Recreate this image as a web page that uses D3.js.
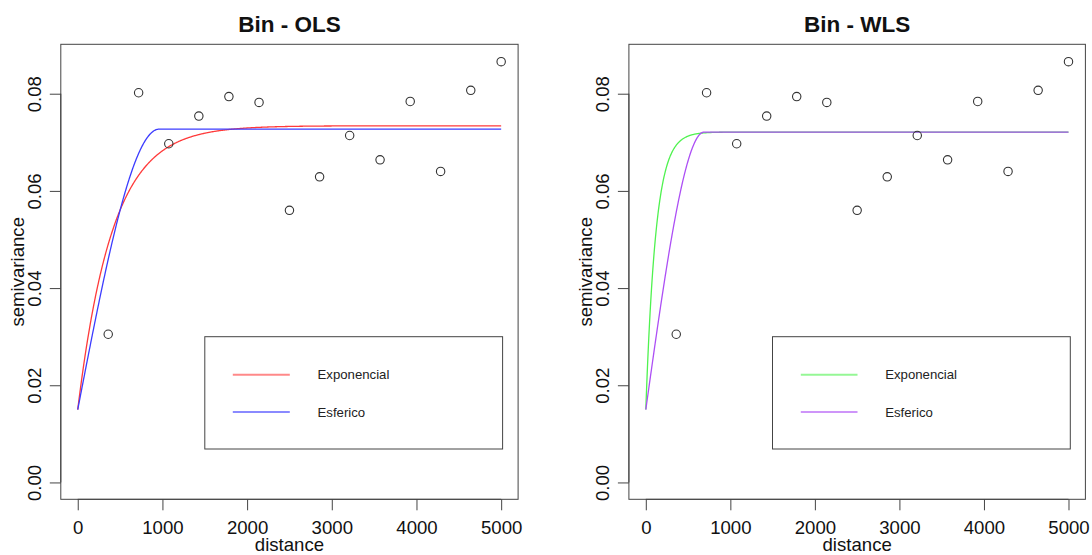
<!DOCTYPE html>
<html><head><meta charset="utf-8">
<script src="https://d3js.org/d3.v7.min.js"></script>
<style>
html,body{margin:0;padding:0;background:#fff;}
svg{display:block;font-family:"Liberation Sans",Arial,Helvetica,sans-serif;}
</style></head>
<body><svg id="c" width="1092" height="555"></svg>
<script>
// ---- data ----
const distances   = [360, 719, 1075, 1430, 1785, 2141, 2500, 2856, 3211, 3570, 3926, 4285, 4641, 5000];
const semivariance= [0.0305, 0.0802, 0.0697, 0.0754, 0.0794, 0.0782, 0.0560, 0.0629, 0.0714, 0.0664, 0.0784, 0.0640, 0.0807, 0.0866];
const xTicks = [0, 1000, 2000, 3000, 4000, 5000];
const yTicks = [0, 0.02, 0.04, 0.06, 0.08];
const panelTitles = ["Bin - OLS", "Bin - WLS"];
const legendLabels = ["Exponencial", "Esferico"];
// fitted model parameters: [nugget, sill, range]
const olsExponential = [0.015, 0.0734, 412];
const olsSpherical   = [0.015, 0.0727, 960];
const wlsExponential = [0.015, 0.0721, 118];
const wlsSpherical   = [0.015, 0.0721, 690];
const modelColors = [["#ff3a3a", "#3c3cff"], ["#4ff24f", "#ad4ff5"]];

// ---- variogram models ----
function expModel(p){ const [n,s,a]=p; return h => n + (s-n)*(1-Math.exp(-h/a)); }
function sphModel(p){ const [n,s,a]=p; return h => h>=a ? s : n + (s-n)*(1.5*h/a - 0.5*Math.pow(h/a,3)); }

const svg = d3.select("#c");
const font = 18.6;

const panels = [
  {x0:60.8, x1:518.1, title:panelTitles[0], models:[expModel(olsExponential), sphModel(olsSpherical)], colors:modelColors[0], leg:[204.8,502.6,232.8,289.8,317.5]},
  {x0:628.9, x1:1085.4, title:panelTitles[1], models:[expModel(wlsExponential), sphModel(wlsSpherical)], colors:modelColors[1], leg:[772.5,1070.3,800.8,857.5,885.2]}
];
const yTop = 44.3, yBot = 499.3;
const ylim = [0, 0.0867], xlim = [0, 5000];
const ext = v => { const d=(v[1]-v[0])*0.04; return [v[0]-d, v[1]+d]; };

const hs = d3.range(0, 5000.1, 5);

panels.forEach(p => {
  const x = d3.scaleLinear().domain(ext(xlim)).range([p.x0, p.x1]);
  const y = d3.scaleLinear().domain(ext(ylim)).range([yBot, yTop]);
  const g = svg.append("g");

  // curves
  p.models.forEach((m, i) => {
    g.append("path")
      .datum(hs)
      .attr("d", d3.line().x(h => x(h)).y(h => y(m(h))))
      .attr("fill", "none").attr("stroke", p.colors[i]).attr("stroke-width", 1.3);
  });

  // points
  g.selectAll("circle.pt").data(distances).enter().append("circle")
    .attr("cx", (d) => x(d)).attr("cy", (d, i) => y(semivariance[i]))
    .attr("r", 4.2).attr("fill", "none").attr("stroke", "#333").attr("stroke-width", 1.1);

  // box
  g.append("rect").attr("x", p.x0).attr("y", yTop).attr("width", p.x1-p.x0).attr("height", yBot-yTop)
    .attr("fill", "none").attr("stroke", "#444").attr("stroke-width", 1);

  // x axis
  const xa = d3.axisBottom(x).tickValues(xTicks).tickSize(11).tickPadding(8).tickFormat(d3.format("d"));
  const gx = g.append("g").attr("transform", `translate(0,${yBot})`).call(xa);
  gx.select(".domain").attr("d", `M${x(0)},0H${x(5000)}`).attr("stroke", "#444");
  gx.selectAll(".tick line").attr("stroke", "#444");
  gx.selectAll(".tick text").attr("font-size", font).attr("fill", "#111")
    .attr("font-family", "Liberation Sans, Arial, sans-serif").attr("dy", null).attr("y", 34.8);

  // y axis
  const ya = d3.axisLeft(y).tickValues(yTicks).tickSize(11).tickFormat(d3.format(".2f"));
  const gy = g.append("g").attr("transform", `translate(${p.x0},0)`).call(ya);
  gy.select(".domain").attr("d", `M0,${y(0)}V${y(0.08)}`).attr("stroke", "#444");
  gy.selectAll(".tick line").attr("stroke", "#444");
  gy.selectAll(".tick text")
    .attr("font-size", font).attr("fill", "#111").attr("font-family", "Liberation Sans, Arial, sans-serif")
    .attr("x", null).attr("dy", null).attr("text-anchor", "middle")
    .attr("transform", `translate(-20.3,0) rotate(-90)`).attr("y", 0);

  // titles
  const cx = (p.x0 + p.x1) / 2;
  g.append("text").attr("x", cx).attr("y", 31.7).attr("text-anchor", "middle")
    .attr("font-size", 22.5).attr("font-weight", "bold").attr("fill", "#111").text(p.title);
  g.append("text").attr("x", cx).attr("y", 551).attr("text-anchor", "middle")
    .attr("font-size", font).attr("fill", "#111").text("distance");
  g.append("text").attr("transform", `translate(${p.x0-37.3},${(yTop+yBot)/2}) rotate(-90)`)
    .attr("text-anchor", "middle").attr("font-size", font).attr("fill", "#111").text("semivariance");

  // legend
  const [lx0, lx1, sx0, sx1, tx] = p.leg;
  const ly0 = 336.7, ly1 = 449;
  g.append("rect").attr("x", lx0).attr("y", ly0).attr("width", lx1-lx0).attr("height", ly1-ly0)
    .attr("fill", "#fff").attr("stroke", "#444").attr("stroke-width", 1);
  const rows = [374.7, 412];
  legendLabels.forEach((lab, i) => {
    g.append("line").attr("x1", sx0).attr("x2", sx1).attr("y1", rows[i]).attr("y2", rows[i])
      .attr("stroke", p.colors[i]).attr("stroke-width", 2).attr("stroke-opacity", 0.6);
    g.append("text").attr("x", tx).attr("y", rows[i] + 4.6).attr("font-size", 13.2)
      .attr("fill", "#222").text(lab);
  });
});
</script></body></html>
